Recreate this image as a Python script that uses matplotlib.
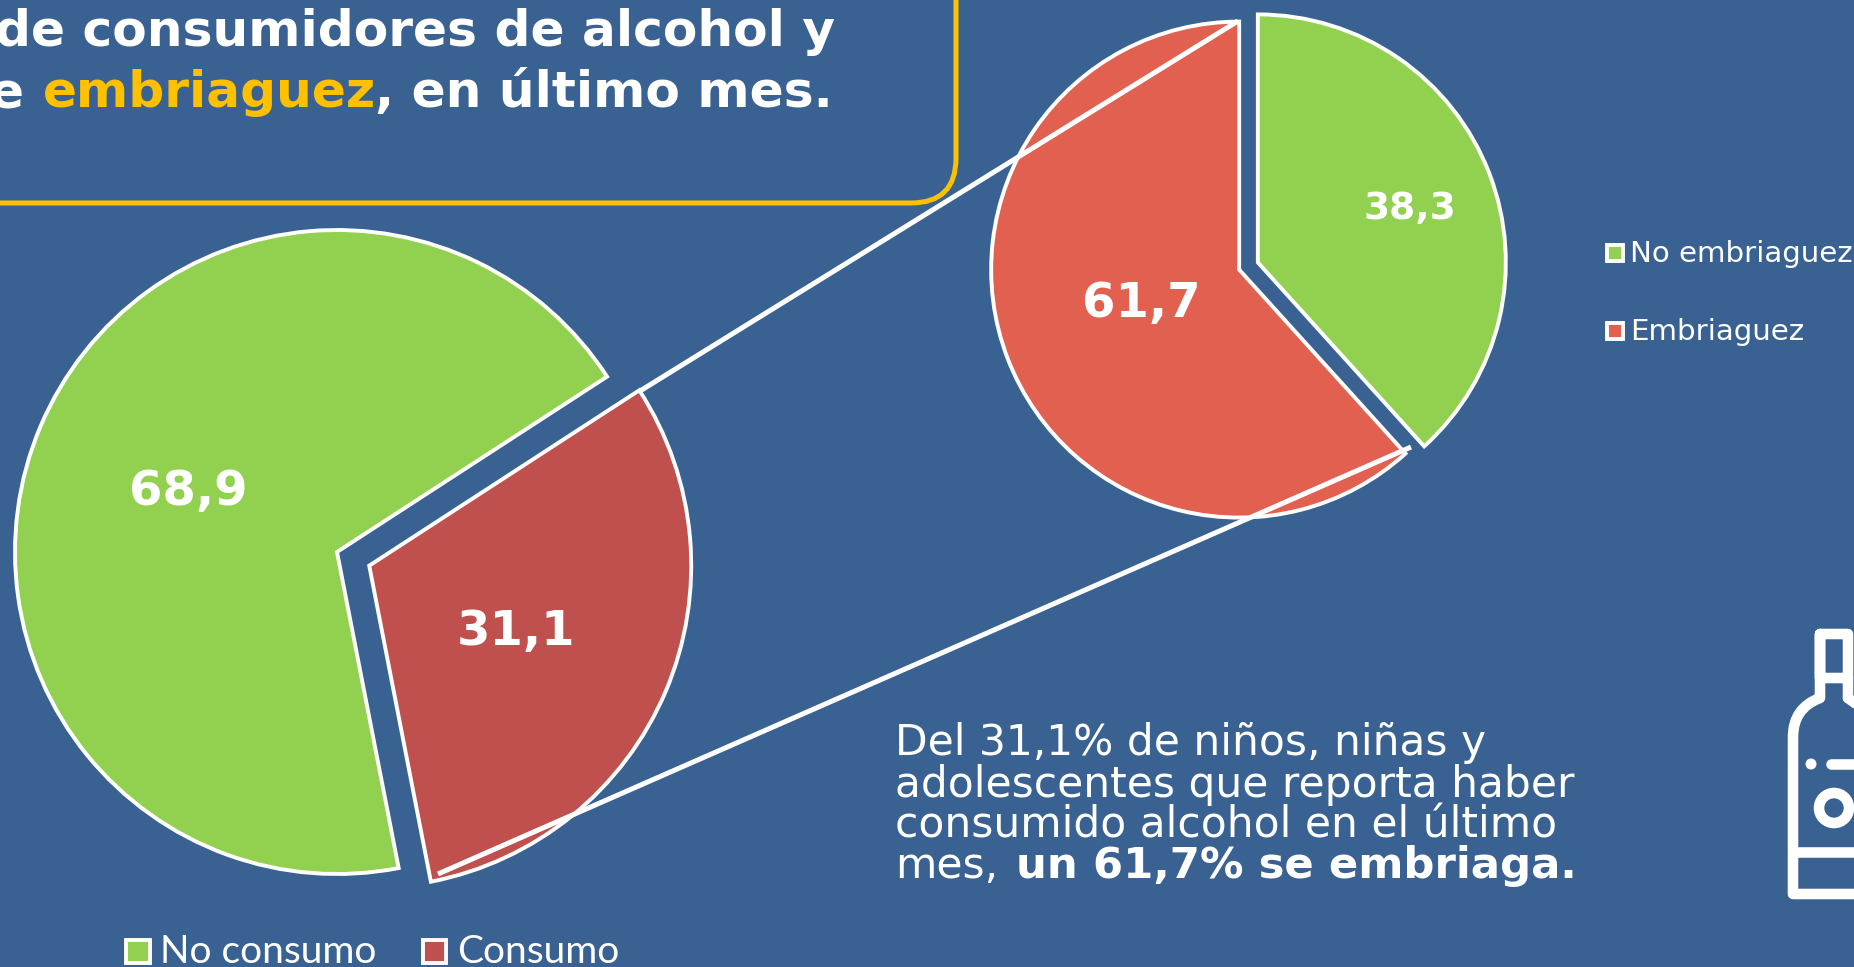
import matplotlib
matplotlib.use("Agg")
import matplotlib.pyplot as plt
from matplotlib.patches import FancyBboxPatch, Rectangle, Circle, PathPatch
from matplotlib.path import Path

# data
consumo_labels = ["No consumo", "Consumo"]
consumo_values = [68.9, 31.1]
embriaguez_labels = ["No embriaguez", "Embriaguez"]
embriaguez_values = [38.3, 61.7]

BG = "#396293"
GREEN = "#92D050"
RED1 = "#C0504D"
RED2 = "#E26050"
GOLD = "#FFC000"
W = 1854
H = 967


def Y(y):
    return H - y


def pct(v):
    return str(v).replace(".", ",")


fig = plt.figure(figsize=(W / 100, H / 100), dpi=100, facecolor=BG)
ax = fig.add_axes([0, 0, 1, 1])
wedge = {"edgecolor": "white", "linewidth": 2.8, "joinstyle": "miter"}

# left pie, explode is in axis units here
ax.pie(consumo_values, colors=[GREEN, RED1], explode=[0, 35], startangle=33,
       center=(337, Y(552)), radius=322, wedgeprops=wedge, frame=True)
# right pie
ax.pie(embriaguez_values, colors=[GREEN, RED2], explode=[10, 10], startangle=90,
       counterclock=False, center=(1248.5, Y(266)), radius=248, wedgeprops=wedge, frame=True)

ax.set_xlim(0, W)
ax.set_ylim(0, H)
ax.set_aspect("equal")
ax.axis("off")

# connector lines
ax.plot([640, 1238], [Y(391), Y(21)], color="white", lw=3.6, solid_capstyle="butt", zorder=5)
ax.plot([438, 1411], [Y(874), Y(447)], color="white", lw=3.6, solid_capstyle="butt", zorder=5)

# value labels
ax.text(188, Y(491), pct(consumo_values[0]), color="white", fontsize=34.6, fontweight="bold", ha="center", va="center", zorder=6)
ax.text(516, Y(632), pct(consumo_values[1]), color="white", fontsize=34.6, fontweight="bold", ha="center", va="center", zorder=6)
ax.text(1410, Y(209), pct(embriaguez_values[0]), color="white", fontsize=27, fontweight="bold", ha="center", va="center", zorder=6)
ax.text(1141, Y(303), pct(embriaguez_values[1]), color="white", fontsize=34.6, fontweight="bold", ha="center", va="center", zorder=6)

# title box
box = FancyBboxPatch((-200, Y(203)), 200 + 956, 400, boxstyle="round,pad=0,rounding_size=45",
                     facecolor="none", edgecolor=GOLD, linewidth=3.6, zorder=3)
ax.add_patch(box)
ax.text(835, Y(46), "de consumidores de alcohol y", color="white", fontsize=36.2, fontweight="bold",
        ha="right", va="baseline")
ax.text(43, Y(107), "embriaguez", color=GOLD, fontsize=36.2, fontweight="bold", ha="left", va="baseline")
ax.text(25, Y(107), "de", color="white", fontsize=36.2, fontweight="bold", ha="right", va="baseline")
ax.text(375, Y(107), ", en último mes.", color="white", fontsize=36.2, fontweight="bold", ha="left", va="baseline")

# note
note_y = [755, 797, 838]
note_lines = ["Del 31,1% de niños, niñas y", "adolescentes que reporta haber", "consumido alcohol en el último"]
for yy, line in zip(note_y, note_lines):
    ax.text(895, Y(yy), line, color="white", fontsize=30.5, ha="left", va="baseline", zorder=6)
ax.text(895, Y(878), "mes,", color="white", fontsize=30.5, ha="left", va="baseline")
ax.text(1016, Y(878), "un 61,7% se embriaga.", color="white", fontsize=31.2, fontweight="bold", ha="left", va="baseline")

# lower legend
for x0, x1, col, txt_x, txt in [(126, 150, GREEN, 160, consumo_labels[0]), (423, 446, RED1, 457, consumo_labels[1])]:
    ax.add_patch(Rectangle((x0, Y(963)), x1 - x0, 23, facecolor=col, edgecolor="white", linewidth=2.8))
    ax.text(txt_x, Y(963), txt, color="white", fontsize=28, family="Lato", ha="left", va="baseline")

# right legend
for yb, col, txt in [(261, GREEN, embriaguez_labels[0]), (339, RED2, embriaguez_labels[1])]:
    ax.add_patch(Rectangle((1607, Y(yb)), 16, 16, facecolor=col, edgecolor="white", linewidth=2.8))
    ax.text(1630, Y(yb + 1), txt, color="white", fontsize=21.1, ha="left", va="baseline")

# bottle icon
lw_b = 7.6
bottle = Path(
    [(1848, Y(678)), (1820, Y(678)), (1820, Y(634)), (1848, Y(634)), (1848, Y(698)),
     (1820, Y(634)), (1820, Y(698)), (1793, Y(708)), (1793, Y(737)), (1793, Y(894)), (1870, Y(894))],
    [Path.MOVETO, Path.LINETO, Path.LINETO, Path.LINETO, Path.LINETO,
     Path.MOVETO, Path.LINETO, Path.CURVE3, Path.CURVE3, Path.LINETO, Path.LINETO])
ax.add_patch(PathPatch(bottle, facecolor="none", edgecolor="white", linewidth=lw_b, joinstyle="round", capstyle="round"))
ax.plot([1848, 1875], [Y(698), Y(718)], color="white", lw=lw_b, solid_capstyle="round")
ax.plot([1793, 1870], [Y(852), Y(852)], color="white", lw=lw_b)
ax.plot([1831, 1870], [Y(764), Y(764)], color="white", lw=lw_b, solid_capstyle="round")
ax.add_patch(Circle((1811, Y(764)), 5.5, facecolor="white", edgecolor="none"))
ax.add_patch(Circle((1834, Y(808)), 15, facecolor="none", edgecolor="white", linewidth=lw_b))

fig.savefig("out.png", dpi=100, facecolor=BG)
